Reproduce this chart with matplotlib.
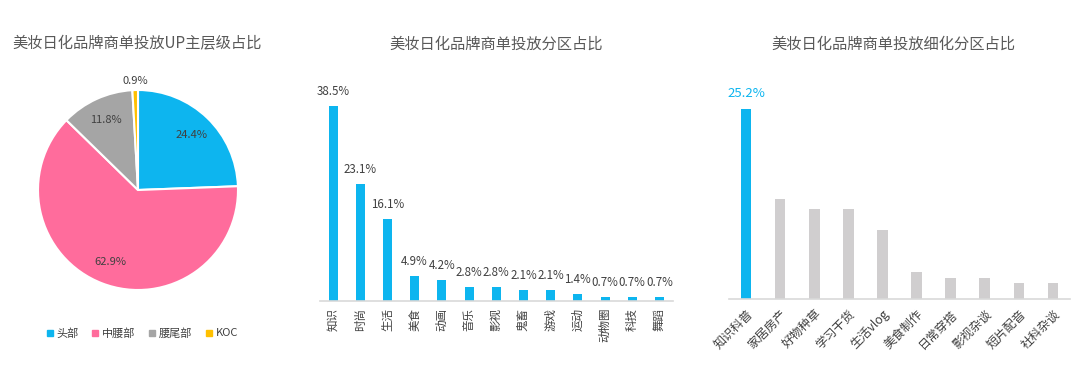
import matplotlib
matplotlib.use("Agg")
import matplotlib.pyplot as plt
from matplotlib.lines import Line2D

plt.rcParams['font.family'] = ['Noto Sans CJK SC', 'DejaVu Sans']

# ---- data ----
pie_labels = ["头部", "中腰部", "腰尾部", "KOC"]
pie_values = [24.4, 62.9, 11.8, 0.9]
pie_colors = ["#0DB5EF", "#FF6C9C", "#A5A5A5", "#FFC000"]

mid_cats = ["知识", "时尚", "生活", "美食", "动画", "音乐", "影视", "鬼畜", "游戏", "运动", "动物圈", "科技", "舞蹈"]
mid_values = [38.5, 23.1, 16.1, 4.9, 4.2, 2.8, 2.8, 2.1, 2.1, 1.4, 0.7, 0.7, 0.7]

right_cats = ["知识科普", "家居房产", "好物种草", "学习干货", "生活vlog", "美食制作", "日常穿搭", "影视杂谈", "短片配音", "社科杂谈"]
right_values = [25.2, 13.3, 11.9, 11.9, 9.1, 3.5, 2.75, 2.75, 2.1, 2.1]

BLUE = "#0DB5EF"
GREY_BAR = "#D0CECF"
TITLE_C = "#595959"
LABEL_C = "#404040"
AXIS_C = "#D9D9D9"

W, H = 1080, 370
fig = plt.figure(figsize=(W / 100, H / 100), dpi=100)
fig.patch.set_facecolor("white")


def px_axes(x0, y0, x1, y1):
    """Axes from pixel box (top-left origin)."""
    return fig.add_axes([x0 / W, 1 - y1 / H, (x1 - x0) / W, (y1 - y0) / H])


# ---- titles ----
fig.text(137 / W, 1 - 44 / H, "美妆日化品牌商单投放UP主层级占比", ha="center", va="center",
         fontsize=11, color=TITLE_C)
fig.text(496 / W, 1 - 44 / H, "美妆日化品牌商单投放分区占比", ha="center", va="center",
         fontsize=11, color=TITLE_C)
fig.text(893 / W, 1 - 44 / H, "美妆日化品牌商单投放细化分区占比", ha="center", va="center",
         fontsize=11, color=TITLE_C)

# ---- pie ----
ax1 = px_axes(38, 90, 238, 290)
wedges, _ = ax1.pie(pie_values, colors=pie_colors, startangle=90, counterclock=False,
                    wedgeprops=dict(edgecolor="white", linewidth=1.5))
ax1.set_xlim(-1, 1)
ax1.set_ylim(-1, 1)
ax1.set_aspect("equal")
import numpy as np
cum = 0.0
total = sum(pie_values)
for v, w in zip(pie_values, wedges):
    mid = np.deg2rad((w.theta1 + w.theta2) / 2)
    r = 0.77 if v > 5 else 1.09
    ax1.text(r * np.cos(mid), r * np.sin(mid), f"{v:.1f}%", ha="center", va="center",
             fontsize=8, color=LABEL_C)

handles = [Line2D([0], [0], marker="s", linestyle="", markersize=4.5,
                  markerfacecolor=c, markeredgecolor=c) for c in pie_colors]
fig.legend(handles, pie_labels, loc="center", bbox_to_anchor=(141 / W, 1 - 333 / H), ncol=4,
           frameon=False, fontsize=8, handletextpad=0.1, columnspacing=1.0,
           handlelength=1.0, labelcolor=LABEL_C)

# ---- middle bar chart ----
ax2 = px_axes(319.5, 80, 673, 301)
x2 = np.arange(len(mid_cats))
ax2.bar(x2, mid_values, width=0.33, color=BLUE)
ax2.set_xlim(-0.5, len(mid_cats) - 0.5)
ax2.set_ylim(0, 38.5 * 221 / 195.3)
for xi, v in zip(x2, mid_values):
    ax2.annotate(f"{v:.1f}%", (xi, v), xytext=(0, 10.5), textcoords="offset points",
                 ha="center", va="center", fontsize=8.3, color=LABEL_C)
ax2.set_xticks(x2)
ax2.set_xticklabels(mid_cats, rotation=90, fontsize=8.3, color=LABEL_C)
ax2.tick_params(axis="x", length=0, pad=5)
ax2.set_yticks([])
for s in ["top", "right", "left"]:
    ax2.spines[s].set_visible(False)
ax2.spines["bottom"].set_color(AXIS_C)
ax2.spines["bottom"].set_linewidth(1.2)

# ---- right bar chart ----
ax3 = px_axes(729, 80, 1070, 298.7)
x3 = np.arange(len(right_cats))
colors3 = [BLUE] + [GREY_BAR] * (len(right_cats) - 1)
ax3.bar(x3, right_values, width=0.31, color=colors3)
ax3.set_xlim(-0.5, len(right_cats) - 0.5)
ax3.set_ylim(0, 25.2 * 218.7 / 189.7)
ax3.annotate(f"{right_values[0]:.1f}%", (x3[0], right_values[0]), xytext=(0, 11.5),
             textcoords="offset points", ha="center", va="center", fontsize=9.5, color=BLUE)
ax3.set_xticks(x3)
ax3.set_xticklabels(right_cats, rotation=45, ha="right", va="top", rotation_mode="anchor",
                    fontsize=8.8, color=LABEL_C)
ax3.tick_params(axis="x", length=0, pad=6)
ax3.set_yticks([])
for s in ["top", "right", "left"]:
    ax3.spines[s].set_visible(False)
ax3.spines["bottom"].set_color(AXIS_C)
ax3.spines["bottom"].set_linewidth(1.2)

fig.savefig("out.png", dpi=100, facecolor="white")
